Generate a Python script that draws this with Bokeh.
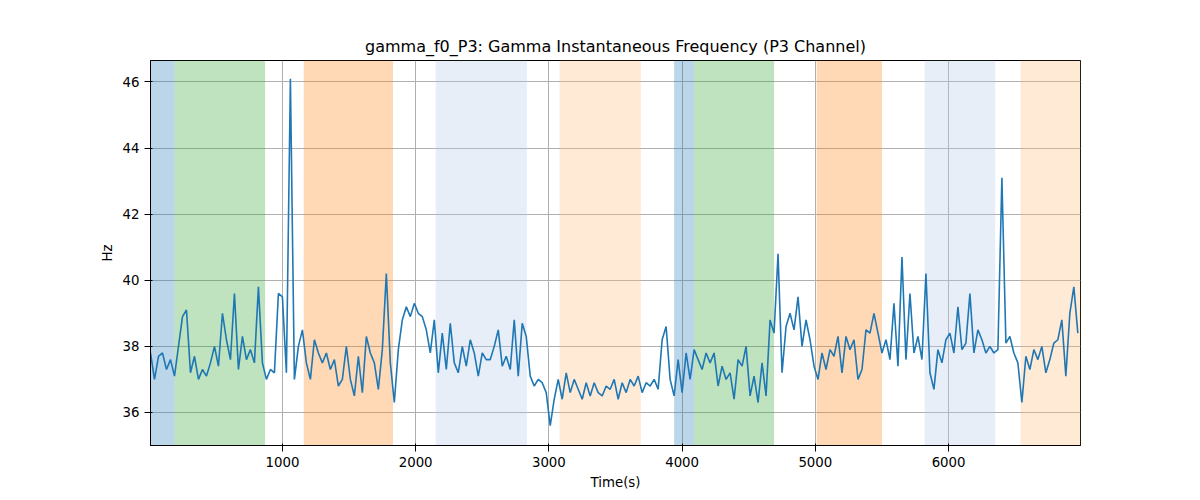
from bokeh.plotting import figure
from bokeh.models import BoxAnnotation, Range1d, FixedTicker
from bokeh.embed import file_html
from bokeh.resources import INLINE

values = [
37.8,37.0,37.7,37.8,37.3,37.6,37.1,38.0,38.9,39.1,
37.2,37.7,37.0,37.3,37.1,37.5,38.0,37.4,39.0,38.2,
37.6,39.6,37.3,38.3,37.6,37.9,37.5,39.8,37.5,37.0,
37.3,37.2,39.6,39.5,37.2,46.1,37.0,38.0,38.5,37.5,
37.0,38.2,37.8,37.5,37.8,37.3,37.6,36.8,37.0,38.0,
37.0,36.5,37.7,36.6,38.3,37.8,37.5,36.7,37.9,40.2,
37.5,36.3,37.9,38.8,39.2,38.9,39.3,39.0,38.9,38.5,
37.8,38.8,37.2,38.4,37.3,38.7,37.5,37.2,38.0,37.4,
38.2,37.8,37.1,37.8,37.6,37.6,38.0,38.5,37.4,37.7,
37.3,38.8,37.1,38.7,38.3,37.1,36.8,37.0,36.9,36.6,
35.6,36.4,37.0,36.4,37.2,36.6,37.0,36.7,36.4,36.9,
36.5,36.9,36.6,36.5,36.8,36.7,37.0,36.4,36.9,36.6,
37.0,36.8,37.1,36.6,36.9,36.8,37.0,36.7,38.2,38.6,
37.0,36.5,37.6,36.6,37.8,37.0,37.9,37.6,37.3,37.8,
37.5,37.8,36.8,37.4,37.0,37.2,36.4,37.6,37.4,38.0,
36.5,37.1,36.3,37.5,36.5,38.8,38.4,40.8,37.2,38.6,
39.0,38.5,39.5,38.0,38.8,38.2,37.4,37.0,37.8,37.3,
37.9,37.7,38.3,37.2,38.3,37.9,38.2,37.0,37.3,38.5,
38.4,39.0,38.4,37.8,38.2,37.6,39.3,37.4,40.7,37.6,
39.6,37.8,38.3,37.6,40.2,37.2,36.7,37.9,37.5,38.2,
38.4,37.8,39.2,37.9,38.1,39.6,37.8,38.5,38.2,37.8,
38.0,37.8,37.9,43.1,38.1,38.3,37.8,37.5,36.3,37.7,
37.3,37.9,37.6,38.0,37.2,37.6,38.1,38.2,38.8,37.1,
39.0,39.8,38.4]
step = 30
times = [10 + i * step for i in range(len(values))]

band_starts = [0, 190, 1160, 2150, 3080, 3940, 4090, 5010, 5820, 6540]
band_ends = [190, 870, 1830, 2835, 3690, 4090, 4690, 5500, 6350, 7000]
band_colors = ["#1f77b4", "#2ca02c", "#ff7f0e", "#aec7e8", "#ffbb78",
               "#1f77b4", "#2ca02c", "#ff7f0e", "#aec7e8", "#ffbb78"]
band_alpha = [0.3, 0.3, 0.3, 0.3, 0.3, 0.3, 0.3, 0.3, 0.3, 0.3]

p = figure(width=1184, height=484, frame_width=930, frame_height=385,
           output_backend="svg", toolbar_location=None,
           title="gamma_f0_P3: Gamma Instantaneous Frequency (P3 Channel)",
           x_axis_label="Time(s)", y_axis_label="Hz",
           x_range=Range1d(10, 6990), y_range=Range1d(35.0, 46.65),
           min_border_left=142, min_border_top=52)
p.min_border_left = 150
p.min_border_top = 60
p.title.align = "center"
p.title.text_font_size = "12pt"
p.title.text_font_style = "normal"
p.title.text_font = "DejaVu Sans"
p.title.text_color = "black"
for s, e, c, a in zip(band_starts, band_ends, band_colors, band_alpha):
    p.add_layout(BoxAnnotation(left=s, right=e, fill_color=c, fill_alpha=a, line_alpha=0, level="underlay"))
p.line(times, values, line_color="#1f77b4", line_width=1.6)
p.xaxis.ticker = FixedTicker(ticks=[1000, 2000, 3000, 4000, 5000, 6000])
p.yaxis.ticker = FixedTicker(ticks=[36, 38, 40, 42, 44, 46])
for ax in (p.xaxis, p.yaxis):
    ax.axis_label_text_font_style = "normal"
    ax.axis_label_text_font = "DejaVu Sans"
    ax.axis_label_text_font_size = "10pt"
    ax.axis_label_text_color = "black"
    ax.major_label_text_font = "DejaVu Sans"
    ax.major_label_text_font_size = "10pt"
    ax.major_label_text_color = "black"
    ax.axis_line_color = "black"
    ax.major_tick_line_color = "black"
    ax.minor_tick_line_color = None
p.grid.grid_line_color = "#b0b0b0"
p.grid.level = "underlay"
p.outline_line_color = "black"
open("out.html", "w").write(file_html(p, INLINE))
